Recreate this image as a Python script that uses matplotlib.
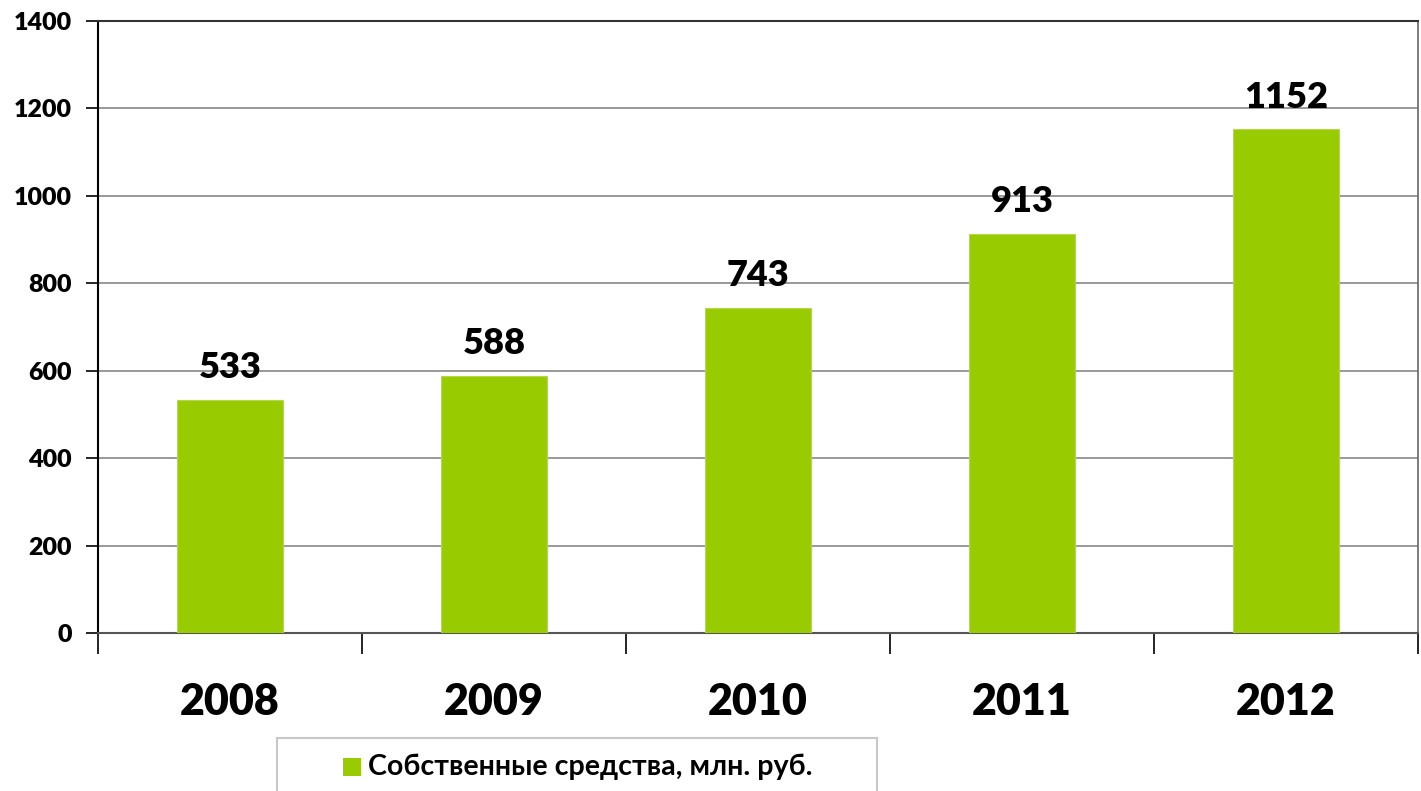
import matplotlib.pyplot as plt
import matplotlib.patches as mpatches

years = ['2008', '2009', '2010', '2011', '2012']
values = [533, 588, 743, 913, 1152]
legend_label = 'Собственные средства, млн. руб.'

fam = ['Lato', 'Open Sans', 'DejaVu Sans']
plt.rcParams['font.family'] = fam
plt.rcParams['font.weight'] = 'heavy'

fig = plt.figure(figsize=(14.21, 7.91), dpi=100)
ax = fig.add_axes([98/1421, 1-633/791, 1320/1421, 612/791])

x = list(range(len(years)))
ax.bar(x, values, width=0.4, color='#99cc00', edgecolor='#b5d84a', linewidth=0.8, zorder=3)
for xi, v in zip(x, values):
    ax.text(xi, v + 36, str(v), ha='center', va='bottom', fontsize=26, fontweight='heavy', zorder=4)

ax.set_xlim(-0.5, len(years) - 0.5)
ax.set_ylim(0, 1400)
ax.set_yticks(range(0, 1401, 200))
ax.tick_params(axis='y', labelsize=18, length=9, width=1.2, pad=10, direction='out')
for lbl in ax.get_yticklabels():
    lbl.set_fontweight('heavy')
ax.set_xticks(x)
ax.set_xticklabels(years, fontsize=31, fontweight='heavy')
ax.tick_params(axis='x', length=0, pad=35)
# category boundary ticks
ax.set_xticks([i - 0.5 for i in range(len(years) + 1)], minor=True)
ax.tick_params(axis='x', which='minor', length=15, width=1.2, color='black')
ax.yaxis.grid(True, color='#888888', linewidth=1.2, zorder=0)
ax.set_axisbelow(True)

ax.spines['left'].set_color('black')
ax.spines['left'].set_linewidth(1.5)
ax.spines['bottom'].set_color('#555555')
ax.spines['bottom'].set_linewidth(1.5)
ax.spines['top'].set_color('#333333')
ax.spines['top'].set_linewidth(1.5)
ax.spines['right'].set_color('#666666')
ax.spines['right'].set_linewidth(1.2)

# legend box
box = mpatches.Rectangle((277/1421, -0.05), 600/1421, 1-738/791 + 0.05, transform=fig.transFigure,
                         facecolor='white', edgecolor='#c8c8c8', linewidth=1.5)
fig.patches.append(box)
sq = mpatches.Rectangle((343/1421, 1-776/791), 18/1421, 18/791, transform=fig.transFigure,
                        facecolor='#99cc00', edgecolor='none')
fig.patches.append(sq)
fig.text(368/1421, 1-767/791, legend_label, fontsize=20.6, fontweight='bold', va='center', ha='left')

fig.savefig('out.png', dpi=100)
